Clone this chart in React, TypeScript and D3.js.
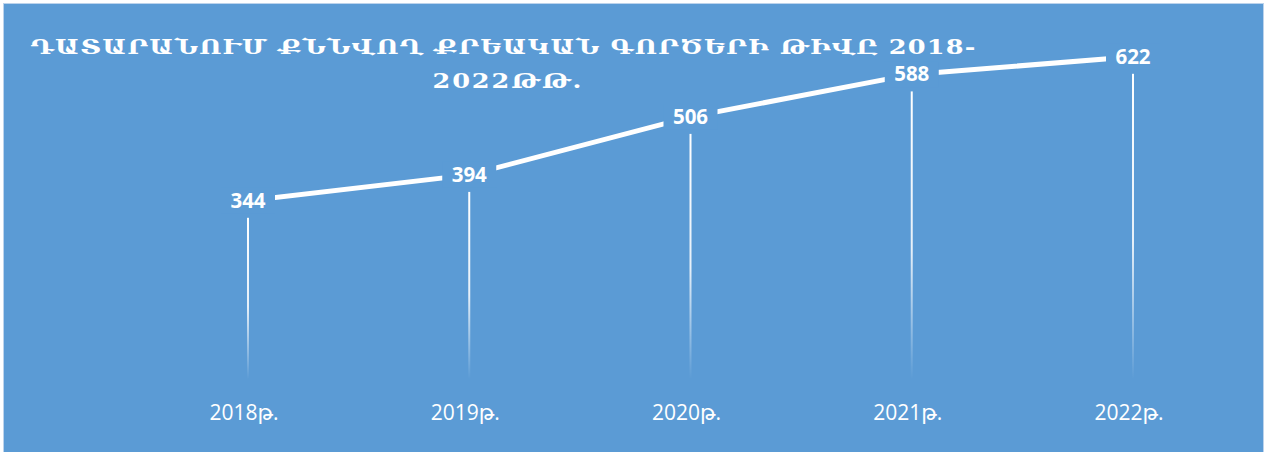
import React from "react";
import * as d3 from "d3";

const categories = ["2018թ.", "2019թ.", "2020թ.", "2021թ.", "2022թ."];
const values = [344, 394, 506, 588, 622];
const titleLines = ["ԴԱՏԱՐԱՆՈՒՄ ՔՆՆՎՈՂ ՔՐԵԱԿԱՆ ԳՈՐԾԵՐԻ ԹԻՎԸ 2018-", "2022ԹԹ."];

const W = 1269;
const H = 452;
const BG = "#5B9BD5";

export default function App() {
  const x = d3.scalePoint<string>().domain(categories).range([248, 1133]);
  const y = d3.scaleLinear().domain([0, 700]).range([379, 16.4]);
  const pts = categories.map((c, i) => [x(c) as number, y(values[i])] as [number, number]);
  const line = d3.line()(pts) || "";
  const labelW = 54;
  const labelH = 26;
  const sx = 1.28;

  return (
    <svg width={W} height={H} style={{ position: "absolute", left: 0, top: 0 }}>
      <defs>
        <linearGradient id="drop" x1="0" y1="0" x2="0" y2="1">
          <stop offset="0" stopColor="#ffffff" stopOpacity={1} />
          <stop offset="0.55" stopColor="#ffffff" stopOpacity={0.85} />
          <stop offset="1" stopColor="#ffffff" stopOpacity={0} />
        </linearGradient>
      </defs>
      <rect x={0} y={0} width={W} height={H} fill="#ffffff" />
      <rect x={3.5} y={3.5} width={1260} height={H} fill={BG} stroke="#bcd3ec" strokeWidth={1} />
      <g transform={`translate(503,0) scale(${sx},1)`}>
        <text
          fill="#ffffff"
          fontFamily="'DejaVu Serif', serif"
          fontWeight="bold"
          fontSize={20}
          textAnchor="middle"
        >
          <tspan x={0} y={54} textLength={945 / sx} lengthAdjust="spacing">{titleLines[0]}</tspan>
          <tspan x={4 / sx} y={88} textLength={149 / sx} lengthAdjust="spacing">{titleLines[1]}</tspan>
        </text>
      </g>
      {pts.map(([px, py], i) => (
        <rect
          key={"d" + i}
          x={px - 1}
          y={py + 17}
          width={2}
          height={Math.max(0, y(0) - py - 17)}
          fill="url(#drop)"
        />
      ))}
      <path d={line} fill="none" stroke="#ffffff" strokeWidth={5} />
      {pts.map(([px, py], i) => (
        <g key={"l" + i}>
          <rect x={px - labelW / 2} y={py - labelH / 2} width={labelW} height={labelH} fill={BG} />
          <text
            x={px}
            y={py + 7}
            textAnchor="middle"
            fill="#ffffff"
            fontFamily="'Open Sans', sans-serif"
            fontWeight="bold"
            fontSize={20.5}
          >
            {values[i]}
          </text>
        </g>
      ))}
      {categories.map((c) => (
        <text
          key={c}
          x={(x(c) as number) - 4}
          y={420}
          textAnchor="middle"
          fill="#ffffff"
          fontFamily="'Open Sans', 'DejaVu Sans', sans-serif"
          fontSize={21}
        >
          {c}
        </text>
      ))}
    </svg>
  );
}
